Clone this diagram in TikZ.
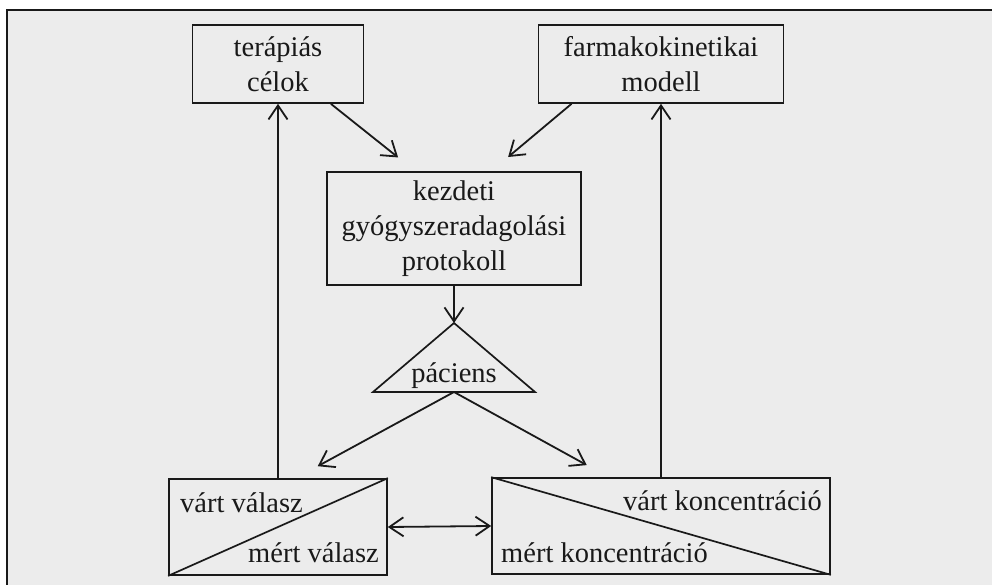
\documentclass[tikz,border=0pt]{standalone}
\usepackage{fontspec}
\setmainfont{Liberation Serif}
\usetikzlibrary{arrows.meta,positioning}

\definecolor{paper}{RGB}{236,236,236}
\definecolor{ink}{RGB}{25,25,25}

\begin{document}
\begin{tikzpicture}[x=1pt,y=-1pt,
  font=\fontsize{28.5}{35}\selectfont,
  every node/.style={text=ink},
  box/.style={draw=ink,line width=1.7pt,inner sep=0pt,align=center},
  txt/.style={inner sep=0pt},
  ar/.style={draw=ink,-{Straight Barb[length=14pt,width=19pt,line width=1.8pt]},line width=1.8pt},
  dar/.style={draw=ink,{Straight Barb[length=14pt,width=19pt,line width=1.8pt]}-{Straight Barb[length=14pt,width=19pt,line width=1.8pt]},line width=1.8pt}]

% sheet and frame
\useasboundingbox (0,0) rectangle (992,585);
\fill[white] (0,0) rectangle (992,585);
\fill[paper] (7,10) rectangle (992,585);
\draw[ink,line width=2.2pt] (7,585) -- (7,10) -- (992,10);

\node[box,minimum width=171pt,minimum height=78pt] (celok) at (278,64) {terápiás\\célok};
\node[box,minimum width=245pt,minimum height=78pt] (modell) at (661,64) {farmakokinetikai\\modell};
\node[box,minimum width=254pt,minimum height=113pt] (proto) at (454,228.5)
      {kezdeti\\gyógyszeradagolási\\protokoll};

% patient triangle
\coordinate (apex) at (454,323);
\coordinate (tl) at (373,392);
\coordinate (tr) at (535,392);
\coordinate (base) at (454,392);
\draw[ink,line width=1.7pt,line join=miter] (apex) -- (tr) -- (tl) -- cycle;
\node[txt,anchor=base] (pac) at (454,382) {páciens};

% response and concentration boxes
\node[box,minimum width=218pt,minimum height=96pt] (valasz) at (278,527) {};
\node[box,minimum width=338pt,minimum height=96pt] (konc) at (661,526) {};
\draw[ink,line width=1.7pt] (valasz.south west) -- (valasz.north east);
\draw[ink,line width=1.7pt] (konc.north west) -- (konc.south east);
\node[txt,anchor=base west] (vvart) at (180,512) {várt válasz};
\node[txt,anchor=base east] (vmert) at (379,562) {mért válasz};
\node[txt,anchor=base east] (kvart) at (822,510) {várt koncentráció};
\node[txt,anchor=base west] (kmert) at (501,562) {mért koncentráció};

\draw[ar,shorten >=22pt] (celok.-37) -- (proto.124);
\draw[ar,shorten >=22pt] (modell.204) -- (proto.57);
\draw[ar] (proto.south) -- (apex);
\draw[ar,shorten >=25pt] (base) -- (valasz.70);
\draw[ar,shorten >=25pt] (base) -- (konc.137);
\draw[dar] (valasz.east) -- (konc.west);
\draw[ar] (valasz.north) -- (celok.south);
\draw[ar] (konc.north) -- (modell.south);
\end{tikzpicture}
\end{document}
